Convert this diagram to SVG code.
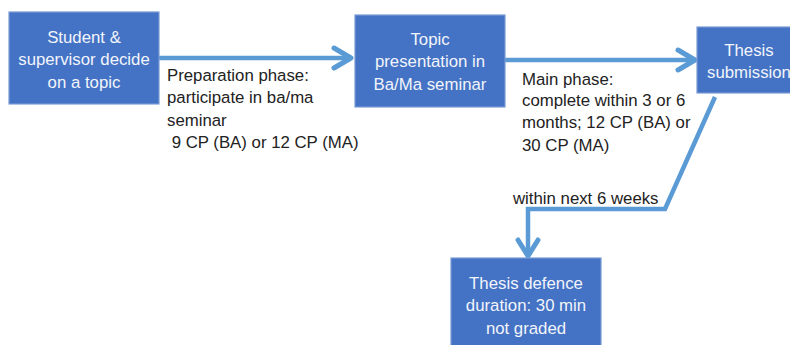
<svg xmlns="http://www.w3.org/2000/svg" width="790" height="345" viewBox="0 0 790 345">
<defs>
<style>
.box{fill:#4472C4;stroke:#7A9BD6;stroke-width:1.2}
.bt{font-family:"Liberation Sans",Arial,sans-serif;font-size:16.8px;fill:#F2F5FB;text-anchor:middle}
.lt{font-family:"Liberation Sans",Arial,sans-serif;font-size:16.8px;fill:#222}
.c{fill:none;stroke:#5B9BD5;stroke-width:4.5;stroke-linejoin:miter}
.h{fill:none;stroke:#5B9BD5;stroke-width:5;stroke-linecap:round;stroke-linejoin:round}
</style>
</defs>
<rect width="790" height="345" fill="#fff"/>
<g id="connectors">
<line class="c" x1="159" y1="58" x2="350" y2="58"/>
<polyline class="h" points="334,48 351,58 334,68"/>
<line class="c" x1="505" y1="60" x2="694" y2="60"/>
<polyline class="h" points="678,50 695,60 678,70"/>
<polyline class="c" points="715,97 665,209 528,209 528,255"/>
<polyline class="h" points="518,240 528,256 538,240"/>
</g>
<g id="n1">
<rect class="box" x="9" y="12" width="150" height="92"/>
<text class="bt" x="84" y="43">Student &amp;</text>
<text class="bt" x="84" y="65">supervisor decide</text>
<text class="bt" x="84" y="88">on a topic</text>
</g>
<g id="n2">
<rect class="box" x="355" y="15" width="150" height="92"/>
<text class="bt" x="430" y="45">Topic</text>
<text class="bt" x="430" y="67">presentation in</text>
<text class="bt" x="430" y="90">Ba/Ma seminar</text>
</g>
<g id="n3">
<rect class="box" x="697" y="27" width="110" height="66"/>
<text class="bt" x="749" y="56">Thesis</text>
<text class="bt" x="749" y="78">submission</text>
</g>
<g id="n4">
<rect class="box" x="451" y="258" width="150" height="92"/>
<text class="bt" x="526" y="289">Thesis defence</text>
<text class="bt" x="526" y="311">duration: 30 min</text>
<text class="bt" x="526" y="334">not graded</text>
</g>
<g id="labels">
<text class="lt" x="167" y="81">Preparation phase:</text>
<text class="lt" x="167" y="103">participate in ba/ma</text>
<text class="lt" x="167" y="126">seminar</text>
<text class="lt" x="167" y="148" xml:space="preserve"> 9 CP (BA) or 12 CP (MA)</text>
<text class="lt" x="522" y="85">Main phase:</text>
<text class="lt" x="522" y="106">complete within 3 or 6</text>
<text class="lt" x="522" y="128">months; 12 CP (BA) or</text>
<text class="lt" x="522" y="151">30 CP (MA)</text>
<text class="lt" x="513" y="204">within next 6 weeks</text>
</g>
</svg>
